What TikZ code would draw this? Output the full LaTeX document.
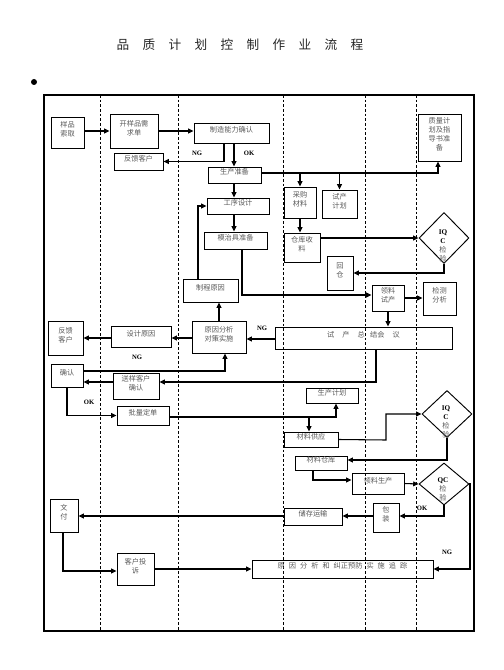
\documentclass[tikz,border=0pt]{standalone}
\usepackage{fontspec}
\setmainfont{Liberation Serif}
\newfontfamily\cjk{Noto Sans CJK SC}
\usetikzlibrary{arrows.meta,fit,shapes.geometric}
\begin{document}
\begin{tikzpicture}[x=0.75pt,y=-0.75pt,
 box/.style={draw, line width=0.7pt, inner sep=0pt, font=\cjk\fontsize{5.4}{6.8}\selectfont, text=black!65, align=center},
 dia/.style={draw, diamond, line width=0.7pt, inner sep=0pt},
 dtext/.style={align=center, inner sep=0pt, font=\fontsize{5.4}{6.75}\selectfont},
 arr/.style={line width=0.8pt, -{Triangle[length=4pt,width=3.6pt]}},
 ln/.style={line width=0.8pt},
 lane/.style={line width=0.6pt, dash pattern=on 2pt off 1.5pt},
 tag/.style={font=\bfseries\fontsize{5}{6}\selectfont, inner sep=0pt}
]
\useasboundingbox (0,0) rectangle (503,670);
% title and bullet
\node[font=\cjk\fontsize{9.5}{11}\selectfont, text=black!85] (title) at (240,45)
 {品\hspace{10pt}质\hspace{10pt}计\hspace{10pt}划\hspace{10pt}控\hspace{10pt}制\hspace{10pt}作\hspace{10pt}业\hspace{10pt}流\hspace{10pt}程};
\node[circle, fill, inner sep=0pt, minimum size=4.5pt] (bullet) at (34,82) {};
% frame and lanes
\draw[line width=0.8pt] (44,95) rectangle (474,631);
\foreach \x in {100,178,283,365,416} \draw[lane] (\x,95) -- (\x,631);
% boxes
\node[box, fit={(51,117) (84,148)}] (yp) {样品\\索取};
\node[box, fit={(110,114) (158,148)}] (kyp) {开样品需\\求单};
\node[box, fit={(194,123) (269,143)}] (zz) {制造能力确认};
\node[box, fit={(114,153) (163,170)}] (fk1) {反馈客户};
\node[box, fit={(208,167) (261,183)}] (sczb) {生产准备};
\node[box, fit={(418,114) (461,161)}] (zl) {质量计\\划及指\\导书准\\备};
\node[box, fit={(284,187) (316,218)}] (cg) {采购\\材料};
\node[box, fit={(322,190) (357,218)}] (sc) {试产\\计划};
\node[box, fit={(207,198) (269,214)}] (gx) {工序设计};
\node[box, fit={(204,232) (267,249)}] (mz) {模治具准备};
\node[box, fit={(284,233) (320,262)}] (ck) {仓库收\\料};
\node[box, fit={(327,256) (353,290)}] (hc) {回\\仓};
\node[box, fit={(183,279) (238,302)}] (zc) {制程原因};
\node[box, fit={(372,285) (404,311)}] (ll) {领料\\试产};
\node[box, fit={(423,282) (456,315)}] (jc) {检测\\分析};
\node[box, fit={(192,321) (246,353)}] (yy) {原因分析\\对策实施};
\node[box, fit={(111,326) (171,347)}] (sj) {设计原因};
\node[box, fit={(48,321) (83,355)}] (fk2) {反馈\\客户};
\node[box, fit={(275,327) (452,349)}] (zj) {试\hspace{6pt}产\hspace{6pt}总\hspace{4pt}结会\hspace{6pt}议};
\node[box, fit={(51,364) (83,387)}] (qr) {确认};
\node[box, fit={(113,373) (159,399)}] (sy) {送样客户\\确认};
\node[box, fit={(117,406) (169,425)}] (pl) {批量定单};
\node[box, fit={(306,388) (358,403)}] (jh) {生产计划};
\node[box, fit={(284,432) (338,447)}] (gy) {材料供应};
\node[box, fit={(295,456) (347,470)}] (cl) {材料仓库};
\node[box, fit={(352,473) (404,494)}] (ls) {领料生产};
\node[box, fit={(373,503) (399,532)}] (bz) {包\\装};
\node[box, fit={(284,508) (342,525)}] (cc) {储存运输};
\node[box, fit={(50,499) (78,532)}] (wf) {文\\付};
\node[box, fit={(117,553) (154,585)}] (ts) {客户投\\诉};
\node[box, fit={(252,560) (433,578)}] (gz) {原\hspace{3pt}因\hspace{3pt}分\hspace{3pt}析\hspace{3pt}和\hspace{3pt}纠正预防\hspace{3pt}实\hspace{3pt}施\hspace{3pt}追\hspace{3pt}踪};
% diamonds
\node[dia, minimum width=50*0.75pt, minimum height=51*0.75pt] (iqc1) at (444,238) {};
\node[dia, minimum width=50*0.75pt, minimum height=47*0.75pt] (iqc2) at (447,414) {};
\node[dia, minimum width=50*0.75pt, minimum height=42*0.75pt] (qc) at (444,484) {};
\node[dtext] (t1) at (443,246) {\textbf{IQ}\\\textbf{C}\\{\cjk\color{black!65}检}\\{\cjk\color{black!65}验}};
\node[dtext] (t2) at (446,422) {\textbf{IQ}\\\textbf{C}\\{\cjk\color{black!65}检}\\{\cjk\color{black!65}验}};
\node[dtext] (t3) at (443,489) {\textbf{QC}\\{\cjk\color{black!65}检}\\{\cjk\color{black!65}验}};
% connectors
\draw[arr] (yp.east |- 0,131) -- (kyp.west |- 0,131);
\draw[arr] (kyp.east |- 0,131) -- (zz.west |- 0,131);
\draw[arr] (zz.south -| 224,0) |- (fk1.east);
\draw[arr] (zz.south -| 234,0) -- (sczb.north -| 234,0);
\draw[arr] (sczb.east |- 0,173) -| (zl.south -| 438,0);
\draw[arr] (cg.north |- 0,173) -- (cg.north);
\draw[arr] (sc.north |- 0,173) -- (sc.north);
\draw[arr] (sczb.south -| 234,0) -- (gx.north -| 234,0);
\draw[arr] (gx.south -| 234,0) -- (mz.north -| 234,0);
\draw[arr] (zc.north -| 198,0) |- (gx.west);
\draw[arr] (mz.south -| 242,0) |- (ll.west |- 0,295);
\draw[arr] (ll.east) -- (jc.west |- ll.east);
\draw[arr] (cg.south) -- (ck.north -| cg.south);
\draw[arr] (ck.east |- 0,238) -- (iqc1.west);
\draw[arr] (iqc1.south) |- (hc.east);
\draw[arr] (ll.south) -- (zj.north -| ll.south);
\draw[arr] (zj.west |- 0,339) -- (yy.east |- 0,339);
\node[tag] (ng1) at (262,328) {NG};
\draw[arr] (yy.north -| 219,0) -- (zc.south -| 219,0);
\draw[arr] (yy.west |- 0,338) -- (sj.east |- 0,338);
\draw[arr] (sj.west |- 0,338) -- (fk2.east |- 0,338);
\node[tag] (ng2) at (137,357) {NG};
\draw[arr] (qr.east |- 0,371) -| (yy.south -| 225,0);
\draw[arr] (zj.south -| 376,0) |- (sy.east |- 0,382);
\draw[arr] (sy.west |- 0,382) -- (qr.east |- 0,382);
\draw[arr] (qr.south -| 67,0) |- (pl.west);
\node[tag] (ok2) at (89,402) {OK};
\draw[arr] (pl.east |- 0,417) -| (jh.south -| 336,0);
\coordinate (br) at (309,417);
\draw[arr] (br) -- (gy.north -| br);
\draw[arr] (gy.east) -- (386,440) |- (iqc2.west);
\draw[arr] (iqc2.south) |- (cl.east |- 0,460);
\draw[arr] (cl.south -| 313,0) |- (ls.west |- 0,480);
\draw[arr] (ls.east) -- (qc.west);
\draw[arr] (qc.south) |- (bz.east |- 0,516);
\node[tag] (ok3) at (422,508) {OK};
\draw[arr] (bz.west |- 0,516) -- (cc.east |- 0,516);
\draw[arr] (cc.west |- 0,516) -- (wf.east |- 0,516);
\draw[arr] (wf.south -| 63,0) |- (ts.west |- 0,571);
\draw[arr] (ts.east |- 0,569) -- (gz.west |- 0,569);
\draw[arr] (qc.east) -- (470,484) |- (gz.east);
\node[tag] (ng3) at (447,552) {NG};
\node[tag] (ng0) at (197,153) {NG};
\node[tag] (ok1) at (249,153) {OK};
\end{tikzpicture}
\end{document}
